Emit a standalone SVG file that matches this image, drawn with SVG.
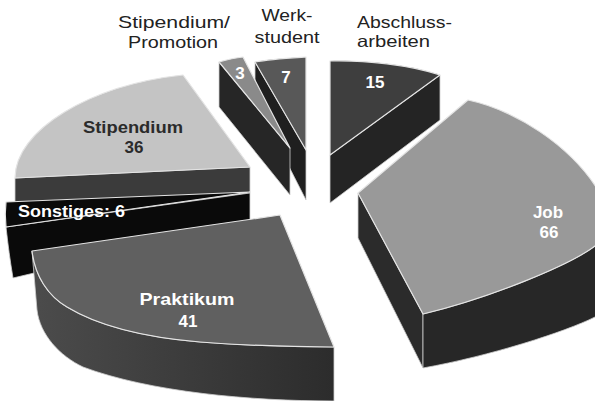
<svg xmlns="http://www.w3.org/2000/svg" width="595" height="401" viewBox="0 0 595 401">
<defs>
<linearGradient id="gPrak" x1="30" y1="0" x2="334" y2="0" gradientUnits="userSpaceOnUse">
<stop offset="0" stop-color="#4c4c4c"/>
<stop offset="1" stop-color="#2c2c2c"/>
</linearGradient>
<style>
.top{stroke:#e4e4e4;stroke-width:1.2;stroke-linejoin:round}
.side{stroke:#cfcfcf;stroke-width:0.8;stroke-linejoin:round}
.lbl{font-family:"Liberation Sans",Arial,sans-serif;font-size:16.5px;fill:#222}
.val{font-family:"Liberation Sans",Arial,sans-serif;font-size:17px;font-weight:bold;fill:#fff}
.dk{fill:#2b2b2b}
</style>
</defs>
<rect width="595" height="401" fill="#fff"/>

<g id="abschlussarbeiten">
<path class="side" d="M330,155 L440,75 L440,120 L330,203 Z" fill="#242424"/>
<path class="top" d="M330,155 L330,61 C365,60 410,65 440,75 Z" fill="#3e3e3e"/>
<text class="val" x="375" y="88" text-anchor="middle">15</text>
</g>

<g id="werkstudent">
<path class="side" d="M255,62 L306,150 L306,200 L255,100 Z" fill="#1f1f1f"/>
<path class="top" d="M306,150 L306,57 C290,58 270,59 255,62 Z" fill="#585858"/>
<text class="val" x="286" y="83" text-anchor="middle">7</text>
</g>

<g id="stipendium-promotion">
<path class="side" d="M219,62 L290,148 L290,195 L219,107 Z" fill="#262626"/>
<path class="top" d="M290,148 L219,62 C226,60 234,58 243,57 Z" fill="#8a8a8a"/>
<text class="val" x="240" y="79" text-anchor="middle">3</text>
</g>

<g id="stipendium">
<path class="side" d="M15,178 L250,167 L250,193 L15,203 Z" fill="#3b3b3b"/>
<path class="top" d="M15,178 C15,130 90,85 183,75 L250,167 Z" fill="#c4c4c4"/>
<text class="val dk" x="133" y="133" text-anchor="middle" textLength="100" lengthAdjust="spacingAndGlyphs">Stipendium</text>
<text class="val dk" x="134" y="153" text-anchor="middle">36</text>
</g>

<g id="sonstiges">
<path class="side" d="M6,227 L250,193 L250,222 L13,278 C10,260 8,245 6,227 Z" fill="#0a0a0a"/>
<path class="top" d="M6,202 L250,192 L6,227 C5,218 5,210 6,202 Z" fill="#0a0a0a"/>
<text class="val" x="18" y="217" textLength="107" lengthAdjust="spacingAndGlyphs">Sonstiges: 6</text>
</g>

<g id="praktikum">
<path class="side" d="M32,251 C35,276 48,296 67,307 C95,324 140,337 200,342 C240,345 290,347 334,347 L334,401 C250,401 150,392 83,367 C60,356 40,335 37,310 Z" fill="url(#gPrak)"/>
<path class="top" d="M32,251 L280,215 L334,347 C290,347 240,345 200,342 C140,337 95,324 67,307 C48,296 35,276 32,251 Z" fill="#606060"/>
<text class="val" x="187" y="305" text-anchor="middle" textLength="95" lengthAdjust="spacingAndGlyphs">Praktikum</text>
<text class="val" x="188" y="327" text-anchor="middle">41</text>
</g>

<g id="job">
<path class="side" d="M358,193 L423,314 L423,368 L358,238 Z" fill="#2b2b2b"/>
<path class="side" d="M423,314 C490,298 570,265 595,246 L610,240 L610,315 L595,317 C565,332 490,356 423,368 Z" fill="#272727"/>
<path class="top" d="M358,193 L468,100 C515,110 570,145 598,190 L612,200 L612,240 L595,246 C570,265 490,298 423,314 Z" fill="#999999"/>
<text class="val" x="548" y="218" text-anchor="middle">Job</text>
<text class="val" x="549" y="238" text-anchor="middle">66</text>
</g>

<g id="labels">
<text class="lbl" x="174" y="28" text-anchor="middle" textLength="112" lengthAdjust="spacingAndGlyphs">Stipendium/</text>
<text class="lbl" x="173" y="48" text-anchor="middle" textLength="90" lengthAdjust="spacingAndGlyphs">Promotion</text>
<text class="lbl" x="287" y="21" text-anchor="middle" textLength="51" lengthAdjust="spacingAndGlyphs">Werk-</text>
<text class="lbl" x="287" y="43" text-anchor="middle" textLength="65" lengthAdjust="spacingAndGlyphs">student</text>
<text class="lbl" x="357" y="28" textLength="95" lengthAdjust="spacingAndGlyphs">Abschluss-</text>
<text class="lbl" x="357" y="47" textLength="73" lengthAdjust="spacingAndGlyphs">arbeiten</text>
</g>

<g id="connectors"></g>
</svg>
